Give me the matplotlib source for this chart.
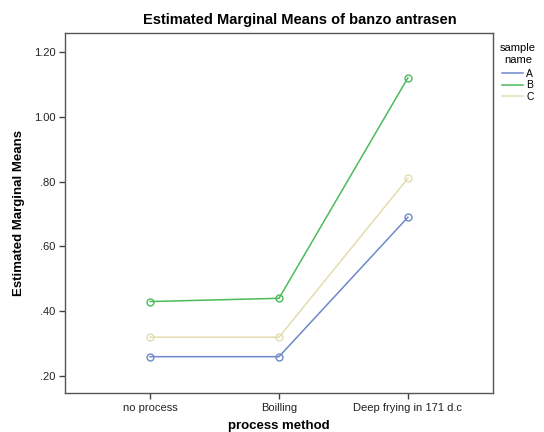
import matplotlib
matplotlib.use('Agg')
import matplotlib.pyplot as plt

plt.rcParams['font.family'] = ['Liberation Sans', 'DejaVu Sans']

methods = ['no process', 'Boilling', 'Deep frying in 171 d.c']
samples = ['A', 'B', 'C']
mean_a = [0.26, 0.26, 0.69]
mean_b = [0.43, 0.44, 1.12]
mean_c = [0.32, 0.32, 0.81]
yticks = [0.20, 0.40, 0.60, 0.80, 1.00, 1.20]
ytick_labels = ['.20', '.40', '.60', '.80', '1.00', '1.20']
colors = ['#7088cc', '#4cbb5a', '#e3ddb0']

fig = plt.figure(figsize=(5.44, 4.32), dpi=100)
ax = fig.add_axes([65/544, 1 - 393/432, (493 - 65)/544, (393 - 33)/432])

x = range(len(methods))
for name, vals, c in zip(samples, [mean_a, mean_b, mean_c], colors):
    ax.plot(x, vals, color=c, lw=1.1, marker='o', ms=5, mfc='none',
            mec=c, mew=1.0, label=name)

ax.set_xlim(-0.66, 2.66)
ax.set_ylim(0.148, 1.258)
ax.set_xticks(list(x))
ax.set_xticklabels(methods, fontsize=8)
ax.set_yticks(yticks)
ax.set_yticklabels(ytick_labels, fontsize=8)
ax.tick_params(direction='out', length=4, width=1, colors='#444444',
               labelcolor='#222222', pad=3)
for s in ax.spines.values():
    s.set_color('#555555')
    s.set_linewidth(1.0)

ax.set_ylabel('Estimated Marginal Means', fontsize=9.5, fontweight='bold', labelpad=6)
ax.set_xlabel('process method', fontsize=9.5, fontweight='bold', labelpad=5)

fig.text(300/544, 1 - 20/432, 'Estimated Marginal Means of banzo antrasen',
         ha='center', va='center', fontsize=10.5, fontweight='bold')

leg = fig.legend(loc='upper left', bbox_to_anchor=(500/544, 1 - 43/432), frameon=False,
                 title='sample\nname', title_fontsize=8, fontsize=7.5,
                 handlelength=2.0, handletextpad=0.3, labelspacing=0.15,
                 borderaxespad=0, borderpad=0, markerscale=0)
leg.get_title().set_multialignment('center')
leg._legend_box.sep = 3

fig.savefig('out.png', dpi=100)
